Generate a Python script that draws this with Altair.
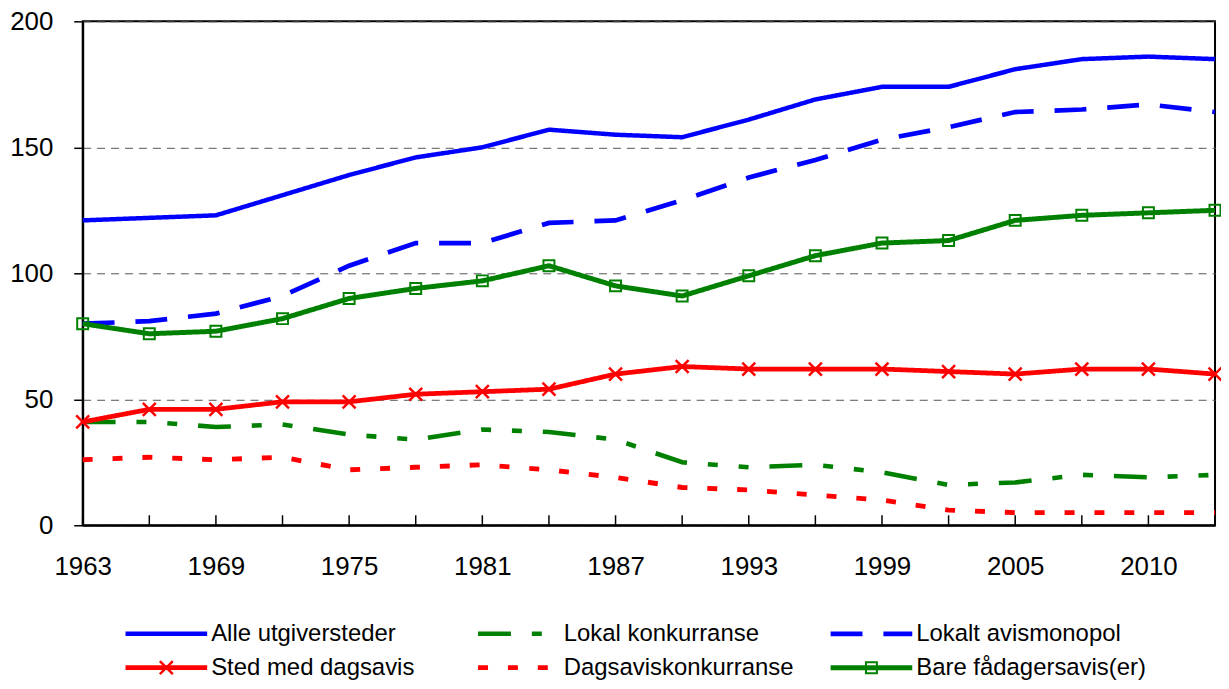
import altair as alt
import pandas as pd

years = ["1963", "1966", "1969", "1972", "1975", "1978", "1981", "1984", "1987",
         "1990", "1993", "1996", "1999", "2002", "2005", "2008", "2010", "2013"]
year_labels = years[::2]

names = ["Alle utgiversteder", "Lokal konkurranse", "Lokalt avismonopol",
         "Sted med dagsavis", "Dagsaviskonkurranse", "Bare fådagersavis(er)"]

alle = [121, 122, 123, 131, 139, 146, 150, 157, 155, 154, 161, 169, 174, 174, 181, 185, 186, 185]
lokal = [41, 41, 39, 40, 36, 34, 38, 37, 34, 25, 23, 24, 21, 16, 17, 20, 19, 20]
monopol = [80, 81, 84, 91, 103, 112, 112, 120, 121, 129, 138, 145, 153, 158, 164, 165, 167, 164]
sted = [41, 46, 46, 49, 49, 52, 53, 54, 60, 63, 62, 62, 62, 61, 60, 62, 62, 60]
dags = [26, 27, 26, 27, 22, 23, 24, 22, 19, 15, 14, 12, 10, 6, 5, 5, 5, 5]
bare = [80, 76, 77, 82, 90, 94, 97, 103, 95, 91, 99, 107, 112, 113, 121, 123, 124, 125]

series_values = [alle, lokal, monopol, sted, dags, bare]
colors = ["#0000FF", "#008000", "#0000FF", "#FF0000", "#FF0000", "#008000"]
dashes = [[1, 0], [33, 21, 10, 21, 10, 21], [32, 21], [1, 0], [10, 20], [1, 0]]
widths = [4.5, 5, 5.5, 5, 5, 5]
draw_order = [1, 4, 2, 0, 5, 3]

legend_cols = [0, 1, 2, 0, 1, 2]
legend_rows = [0, 0, 0, 1, 1, 1]

FONT = "Liberation Sans"
PW = 1137

rows = []
for i in draw_order:
    for y, v in zip(years, series_values[i]):
        rows.append({"series": names[i], "year": y, "value": v, "order": draw_order.index(i)})
df = pd.DataFrame(rows)

color_s = alt.Scale(domain=names, range=colors)
dash_s = alt.Scale(domain=names, range=dashes)
width_s = alt.Scale(domain=names, range=widths)

x_enc = alt.X("year:N", sort=years, scale=alt.Scale(type="point", padding=0),
              axis=alt.Axis(values=year_labels, title=None, ticks=False, tickSize=0,
                            labelPadding=28, labelFontSize=26, labelFont=FONT,
                            labelColor="black", labelAngle=0, domainColor="black",
                            domainWidth=2, grid=False, labelBaseline="top"))
y_enc = alt.Y("value:Q", scale=alt.Scale(domain=[0, 200], nice=False),
              axis=alt.Axis(values=[0, 50, 100, 150, 200], title=None, tickSize=9,
                            tickColor="black", tickWidth=1.5, labelPadding=21,
                            labelFontSize=26, labelFont=FONT, labelColor="black",
                            domainColor="black", domainWidth=2, grid=True,
                            gridColor="#555555", gridDash=[8, 6], gridWidth=1))

lines = alt.Chart(df).mark_line(strokeCap="butt").encode(
    x=x_enc, y=y_enc,
    color=alt.Color("series:N", scale=color_s, legend=None),
    strokeDash=alt.StrokeDash("series:N", scale=dash_s, legend=None),
    strokeWidth=alt.StrokeWidth("series:N", scale=width_s, legend=None),
    order="order:Q",
)

squares = alt.Chart(df).transform_filter(
    alt.datum.series == names[5]
).mark_point(shape="square", filled=False, size=121, strokeWidth=2,
             color="#008000", opacity=1).encode(x=x_enc, y=y_enc)

crosses = alt.Chart(df).transform_filter(
    alt.datum.series == names[3]
).mark_point(shape="M-1,-1L1,1M1,-1L-1,1", filled=False, size=169, strokeWidth=2.5,
             color="#FF0000", opacity=1).encode(x=x_enc, y=y_enc)

tick_df = pd.DataFrame({"year": years, "value": [0] * len(years)})
ticks = alt.Chart(tick_df).mark_rule(color="black", strokeWidth=1.5, y2Offset=-10).encode(
    x=x_enc, y=y_enc, y2="value:Q")

main = alt.layer(lines, squares, crosses, ticks).properties(
    width=PW, height=506,
    view=alt.ViewBackground(stroke="black", strokeWidth=2),
)

leg_df = pd.DataFrame({"series": names, "col": legend_cols, "row": legend_rows})
lx = alt.X("col:Q", scale=alt.Scale(domain=[-0.12147, 3.0904], nice=False, zero=False), axis=None)
ly = alt.Y("row:Q", scale=alt.Scale(domain=[-0.41176, 1.35294], nice=False, zero=False,
                                    reverse=True), axis=None)
leg_base = alt.Chart(leg_df).encode(x=lx, y=ly)

leg_rules = leg_base.mark_rule(x2Offset=82, strokeCap="butt").encode(
    x2="col:Q",
    color=alt.Color("series:N", scale=color_s, legend=None),
    strokeDash=alt.StrokeDash("series:N", scale=dash_s, legend=None),
    strokeWidth=alt.StrokeWidth("series:N", scale=width_s, legend=None),
)
leg_sq = leg_base.transform_filter(alt.datum.series == names[5]).mark_point(
    shape="square", filled=False, size=121, strokeWidth=2, color="#008000",
    opacity=1, xOffset=41)
leg_x = leg_base.transform_filter(alt.datum.series == names[3]).mark_point(
    shape="M-1,-1L1,1M1,-1L-1,1", filled=False, size=169, strokeWidth=2.5,
    color="#FF0000", opacity=1, xOffset=41)
leg_text = leg_base.mark_text(align="left", baseline="middle", dx=86, fontSize=24,
                              font=FONT, color="black").encode(text="series:N")

legend = alt.layer(leg_rules, leg_sq, leg_x, leg_text).properties(
    width=PW, height=60,
    view=alt.ViewBackground(stroke="transparent", strokeWidth=0),
)

chart = alt.vconcat(main, legend, spacing=40).properties(
    padding={"left": 0, "top": -2, "right": -7, "bottom": 0}
).configure_view(
    strokeWidth=0
).resolve_scale(color="independent", strokeDash="independent", strokeWidth="independent")

chart.save("out.html", embed_options={"renderer": "svg", "actions": False})
